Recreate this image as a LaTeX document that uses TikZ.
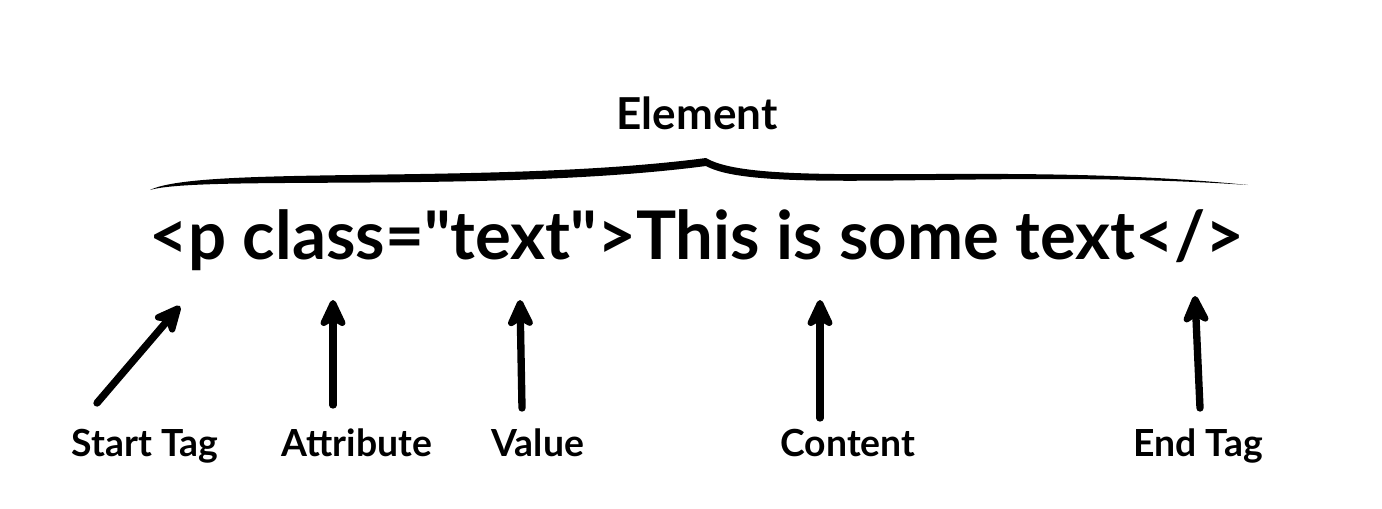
\documentclass[tikz,border=0pt]{standalone}
\usepackage{fontspec}
\setmainfont{Lato}
\usetikzlibrary{arrows.meta}
\begin{document}
\begin{tikzpicture}[x=0.75pt,y=-0.75pt,
  lbl/.style={font=\bfseries\fontsize{28}{30}\selectfont, inner sep=0pt, anchor=base},
  arr/.style={line width=5.5pt,line cap=round,-{Stealth[length=26pt,width=24pt,inset=7pt,round]}}]
\useasboundingbox (0,0) rectangle (1382,508);
\node[font=\bfseries\fontsize{33}{36}\selectfont] (el) at (697,113) {Element};
\node[font=\bfseries\fontsize{45}{50}\selectfont, inner sep=0pt] (code) at (697,240) {\resizebox{821pt}{!}{<p class=\textquotedbl text\textquotedbl>This is some text</>}};
\coordinate (b1) at (150,190);
\coordinate (bp) at (706,158);
\coordinate (b2) at (1248,185);
\fill (b1) .. controls (200,165) and (500,185) .. (bp) .. controls (760,190) and (1000,160) .. (b2)
  .. controls (1000,168) and (760,196) .. (706,166) .. controls (500,193) and (200,175) .. (b1);
\node[lbl] (st) at (145,456) {Start Tag};
\node[lbl] (at) at (357,456) {Attribute};
\node[lbl] (va) at (538,456) {Value};
\node[lbl] (co) at (848,456) {Content};
\node[lbl] (et) at (1198,456) {End Tag};
\coordinate (s0) at (97,403); \coordinate (s1) at (180,306);
\coordinate (a0) at (333,405); \coordinate (a1) at (333,300);
\coordinate (v0) at (522,408); \coordinate (v1) at (520,300);
\coordinate (c0) at (820,418); \coordinate (c1) at (820,300);
\coordinate (e0) at (1200,408); \coordinate (e1) at (1195,296);
\draw[arr] (s0) -- (s1);
\draw[arr] (a0) -- (a1);
\draw[arr] (v0) -- (v1);
\draw[arr] (c0) -- (c1);
\draw[arr] (e0) -- (e1);
\end{tikzpicture}
\end{document}
